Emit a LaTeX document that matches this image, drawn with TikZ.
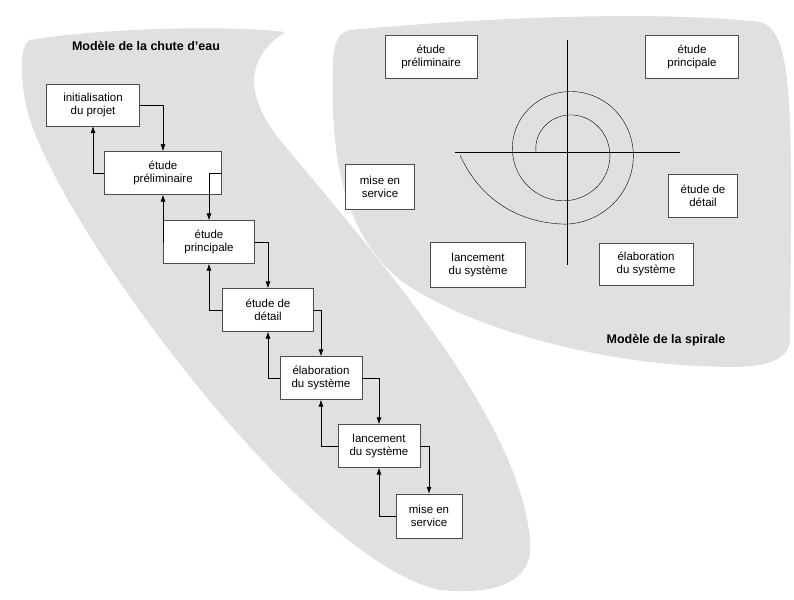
\documentclass[tikz,border=0pt]{standalone}
\usepackage{fontspec}
\setmainfont{Liberation Sans}
\usetikzlibrary{arrows.meta}
\tikzset{
  x=1pt, y=-1pt,
  phase/.style={draw=black!70, fill=white, align=center, font=\fontsize{11.5}{13.5}\selectfont, inner sep=0pt}, % boxes of both models
  flow/.style={-{Latex[length=7pt,width=5pt]}, semithick}, % waterfall arrows
  zone/.style={fill=black!12, draw=none},
  titre/.style={font=\bfseries\fontsize{12.5}{14}\selectfont},
}
\begin{document}
\begin{tikzpicture}
  \useasboundingbox (0,0) rectangle (794,599);
  % background areas
  \path[zone] (30,40) .. controls (100,28) and (230,25) .. (285,32)
     .. controls (250,55) and (240,90) .. (280,140)
     .. controls (380,260) and (520,420) .. (530,540)
     .. controls (535,585) and (490,595) .. (440,590)
     .. controls (300,560) and (40,200) .. (25,100)
     .. controls (20,70) and (20,45) .. (30,40) -- cycle;
  \path[zone] (350,30) .. controls (480,18) and (650,10) .. (760,22)
     .. controls (795,30) and (792,120) .. (790,340)
     .. controls (788,370) and (740,368) .. (700,366)
     .. controls (600,362) and (470,330) .. (400,280)
     .. controls (340,230) and (330,150) .. (333,60)
     .. controls (334,40) and (340,32) .. (350,30) -- cycle;
  \node[titre] (t1) at (146,46) {Modèle de la chute d’eau};
  \node[titre] (t2) at (666,340) {Modèle de la spirale};

  % waterfall
  \node[phase, minimum width=93, minimum height=42] (c1) at (93,105) {initialisation\\du projet};
  \node[phase, minimum width=117, minimum height=43] (c2) at (163,173) {étude\\préliminaire};
  \node[phase, minimum width=91, minimum height=43] (c3) at (209,242) {étude\\principale};
  \node[phase, minimum width=91, minimum height=43] (c4) at (268,310) {étude de\\détail};
  \node[phase, minimum width=82, minimum height=43] (c5) at (321,378) {élaboration\\du système};
  \node[phase, minimum width=82, minimum height=43] (c6) at (379,446) {lancement\\du système};
  \node[phase, minimum width=66, minimum height=44] (c7) at (429,516) {mise en\\service};
  \foreach \a/\b in {c1/c2,c2/c3,c3/c4,c4/c5,c5/c6,c6/c7} {
    \draw[flow] (\a.east) -| (\b.north);
    \draw[flow] (\b.west) -| (\a.south);
  }

  % spiral
  \coordinate (h1) at (455,152);
  \coordinate (h2) at (680,152);
  \coordinate (v1) at (567,40);
  \coordinate (v2) at (567,265);
  \draw (h1) -- (h2);
  \draw (v1) -- (v2);
  \draw plot[domain=180:-450, samples=120, smooth]
      ({567+(31+23.5*(180-\x)/360)*cos(\x)}, {152-(31+23.5*(180-\x)/360)*sin(\x)})
      .. controls (520,224) and (480,200) .. (460,155);
  \node[phase, minimum width=92, minimum height=43] (s1) at (431,57) {étude\\préliminaire};
  \node[phase, minimum width=93, minimum height=43] (s2) at (692,57) {étude\\principale};
  \node[phase, minimum width=69, minimum height=45] (s3) at (380,187) {mise en\\service};
  \node[phase, minimum width=69, minimum height=43] (s4) at (703,196) {étude de\\détail};
  \node[phase, minimum width=95, minimum height=45] (s5) at (478,265) {lancement\\du système};
  \node[phase, minimum width=94, minimum height=42] (s6) at (646,264) {élaboration\\du système};
\end{tikzpicture}
\end{document}
